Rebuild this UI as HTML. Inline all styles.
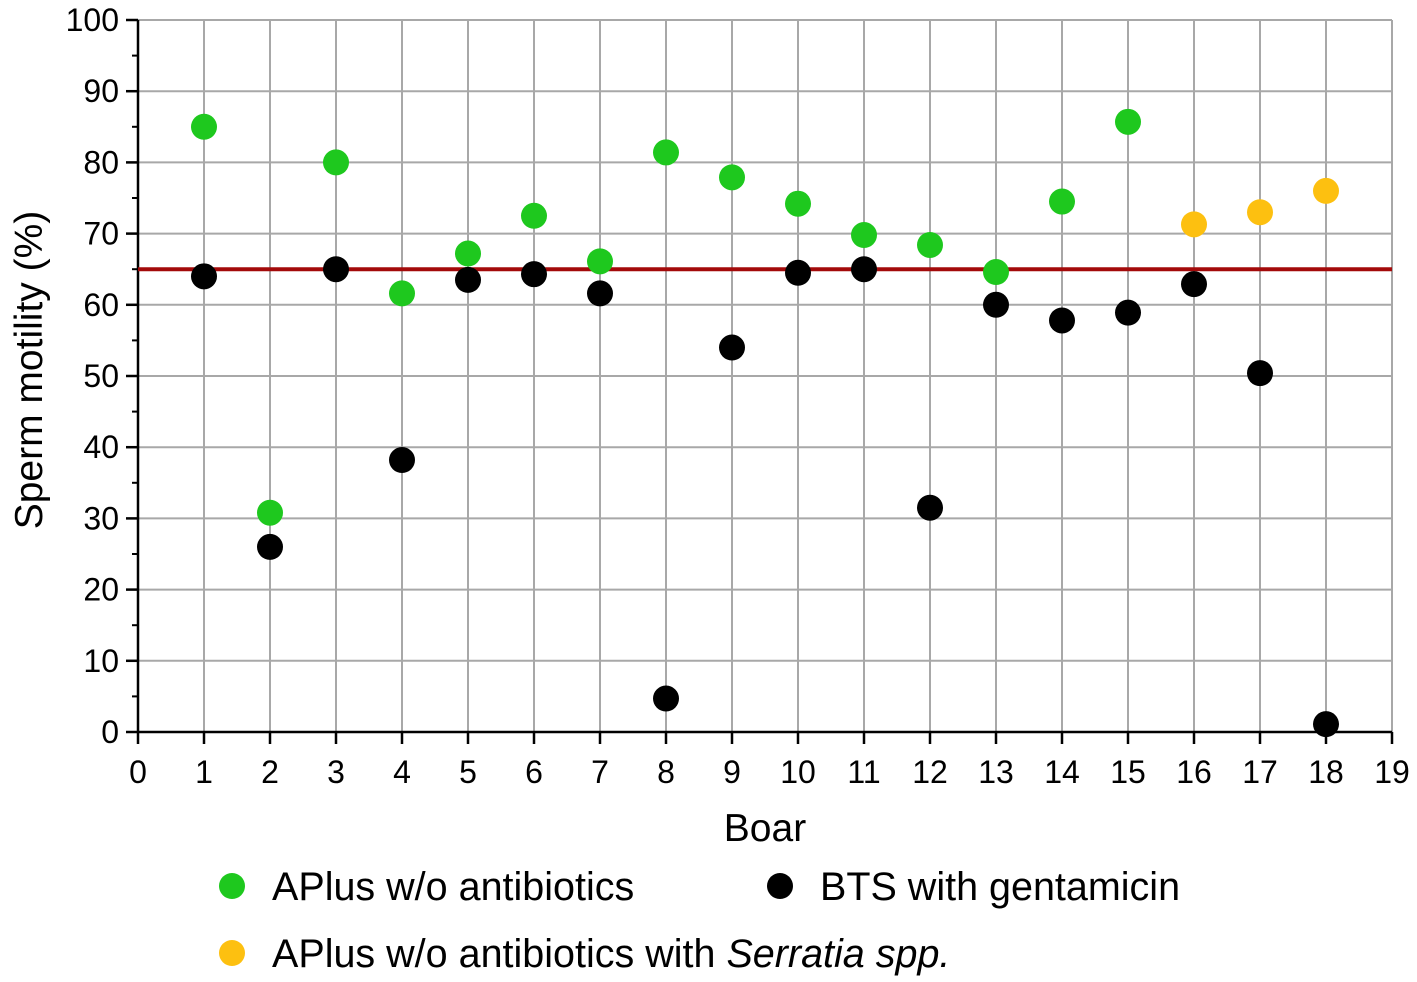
<!DOCTYPE html>
<html><head><meta charset="utf-8"><style>
body{margin:0;background:#fff}
svg{display:block;font-family:"Liberation Sans",Arial,sans-serif}
</style></head><body>
<svg id="chart" width="1417" height="982">
<g id="grid"></g>
<g id="axes"></g>
<line id="thresh" stroke="#a30a0a" stroke-width="4"/>
<g id="marks"></g>
<text x="765" y="841" font-size="39" text-anchor="middle">Boar</text>
<text transform="translate(42,370) rotate(-90)" font-size="39" text-anchor="middle">Sperm motility (%)</text>
<g>
<g><circle cx="232" cy="886" r="13" fill="#1ec81e"/><text x="272" y="900" font-size="39.5">APlus w/o antibiotics</text></g>
<g><circle cx="780" cy="886" r="13" fill="#000"/><text x="820" y="900" font-size="39.5">BTS with gentamicin</text></g>
<g><circle cx="232" cy="953" r="13" fill="#fdc010"/><text x="272" y="967" font-size="39.5">APlus w/o antibiotics with <tspan font-style="italic">Serratia spp.</tspan></text></g>
</g>
</svg>
<script>
const boars=[1,2,3,4,5,6,7,8,9,10,11,12,13,14,15,16,17,18];
const aplus=[85,30.8,80,61.6,67.2,72.5,66.1,81.4,77.9,74.2,69.8,68.4,64.6,74.5,85.7,null,null,null];
const serratia=[null,null,null,null,null,null,null,null,null,null,null,null,null,null,null,71.3,73,76];
const bts=[64,26,65,38.2,63.5,64.3,61.6,4.7,54,64.5,65,31.5,60,57.8,58.9,62.9,50.4,1.1];
const xTicks=[0,1,2,3,4,5,6,7,8,9,10,11,12,13,14,15,16,17,18,19];
const yTicks=[0,10,20,30,40,50,60,70,80,90,100];
const threshold=[65];
const X0=138,X1=1392,Y0=732,Y1=20;
const xs=v=>X0+(v-0)/19*(X1-X0);
const ys=v=>Y0-(v-0)/100*(Y0-Y1);
const NS="http://www.w3.org/2000/svg";
function mk(tag,attrs,parent){const e=document.createElementNS(NS,tag);for(const k in attrs)e.setAttribute(k,attrs[k]);parent.appendChild(e);return e;}
const grid=document.getElementById('grid'),axes=document.getElementById('axes'),marks=document.getElementById('marks');
xTicks.forEach(t=>{
 if(t>0){const g=mk('line',{x1:xs(t),x2:xs(t),y1:Y1,y2:Y0,stroke:'#a8a8a8','stroke-width':2},grid);
 
 }
 const tk=mk('line',{x1:xs(t),x2:xs(t),y1:Y0,y2:Y0+12,stroke:'#000','stroke-width':2.5},axes);
 
 
 const lb=mk('text',{x:xs(t),y:Y0+51,'font-size':32,'text-anchor':'middle'},axes);lb.textContent=t;
 
 
});
yTicks.forEach(t=>{
 if(t>0){const g=mk('line',{x1:X0,x2:X1,y1:ys(t),y2:ys(t),stroke:'#a8a8a8','stroke-width':2},grid);
 
 }
 const tk=mk('line',{x1:X0-12,x2:X0,y1:ys(t),y2:ys(t),stroke:'#000','stroke-width':2.5},axes);
 
 
 if(t<100){const m=mk('line',{x1:X0-6,x2:X0,y1:ys(t+5),y2:ys(t+5),stroke:'#000','stroke-width':2},axes);
 
 }
 const lb=mk('text',{x:X0-19,y:ys(t)+11,'font-size':32,'text-anchor':'end'},axes);lb.textContent=t;
 
 
});
const xa=mk('line',{x1:X0,x2:X1,y1:Y0,y2:Y0,stroke:'#000','stroke-width':2.5},axes);


const ya=mk('line',{x1:X0,x2:X0,y1:Y1,y2:Y0,stroke:'#000','stroke-width':2.5},axes);


const th=document.getElementById('thresh');
th.setAttribute('x1',X0);th.setAttribute('x2',X1);th.setAttribute('y1',ys(threshold[0]));th.setAttribute('y2',ys(threshold[0]));
function series(arr,color,name){arr.forEach((v,i)=>{if(v==null)return;
 const c=mk('circle',{cx:xs(boars[i]),cy:ys(v),r:13,fill:color},marks);
 
 });}
series(aplus,'#1ec81e','aplus');
series(serratia,'#fdc010','serratia');
series(bts,'#000','bts');
</script>
</body></html>
